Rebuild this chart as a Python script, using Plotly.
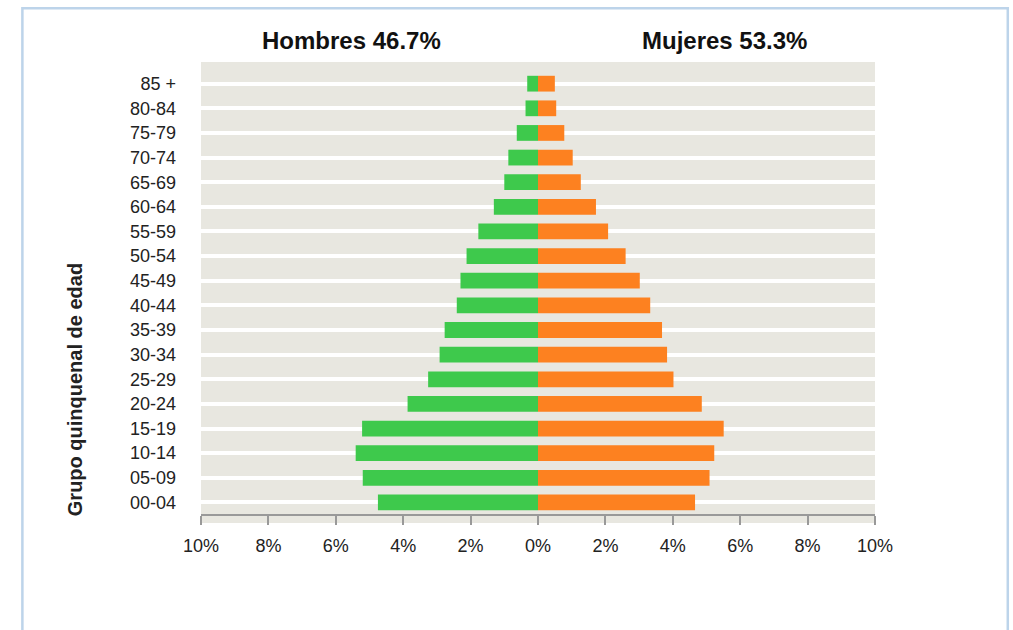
import plotly.graph_objects as go

# grupos quinquenales, de abajo hacia arriba
grupos = ['00-04', '05-09', '10-14', '15-19', '20-24', '25-29', '30-34', '35-39',
          '40-44', '45-49', '50-54', '55-59', '60-64', '65-69', '70-74', '75-79',
          '80-84', '85 +']
hombres = [4.75, 5.20, 5.41, 5.22, 3.87, 3.26, 2.92, 2.77, 2.41, 2.30, 2.12, 1.77,
           1.31, 1.00, 0.88, 0.63, 0.37, 0.32]
mujeres = [4.66, 5.09, 5.23, 5.51, 4.86, 4.02, 3.83, 3.68, 3.33, 3.02, 2.60, 2.08,
           1.72, 1.27, 1.03, 0.78, 0.54, 0.50]
tick_vals = [-10, -8, -6, -4, -2, 0, 2, 4, 6, 8, 10]
tick_text = ['10%', '8%', '6%', '4%', '2%', '0%', '2%', '4%', '6%', '8%', '10%']

fig = go.Figure()
fig.add_trace(go.Bar(
    y=grupos, x=[-v for v in hombres], orientation='h', name='Hombres',
    marker=dict(color='#3ec94c', line=dict(width=0)), width=0.64,
))
fig.add_trace(go.Bar(
    y=grupos, x=mujeres, orientation='h', name='Mujeres',
    marker=dict(color='#fd8120', line=dict(width=0)), width=0.64,
))

# franja gris bajo el eje x
fig.add_shape(type='rect', xref='paper', yref='paper', x0=0, x1=1, y0=-0.02, y1=0,
              fillcolor='#e8e7e0', line=dict(width=0), layer='below')
# marco azul
fig.add_shape(type='rect', xref='paper', yref='paper', x0=-0.265, x1=1.197,
              y0=-0.3, y1=1.119, line=dict(color='#bdd4ea', width=2.5))

head_font = dict(family='Liberation Sans, Arial', size=24, color='#111')
fig.add_annotation(x=0.224, y=1.048, xref='paper', yref='paper', showarrow=False,
                   xanchor='center', yanchor='middle',
                   text='<b>Hombres 46.7%</b>', font=head_font)
fig.add_annotation(x=0.776, y=1.048, xref='paper', yref='paper', showarrow=False,
                   xanchor='center', yanchor='middle',
                   text='<b>Mujeres 53.3%</b>', font=head_font)
fig.add_annotation(x=-0.187, y=0.276, xref='paper', yref='paper', showarrow=False,
                   xanchor='center', yanchor='middle',
                   text='<b>Grupo quinquenal de edad</b>', textangle=-90,
                   font=dict(family='Liberation Sans, Arial', size=20, color='#222'))

fig.update_layout(
    width=1013, height=630,
    margin=dict(l=201, r=138, t=62, b=116),
    barmode='relative',
    showlegend=False,
    paper_bgcolor='white',
    plot_bgcolor='#e8e7e0',
    font=dict(family='Liberation Sans, Arial', size=18, color='#222'),
    xaxis=dict(range=[-10, 10], tickvals=tick_vals, ticktext=tick_text,
               showgrid=False, zeroline=False, showline=True, linecolor='#999',
               linewidth=1.5, ticks='outside', ticklen=9, tickcolor='#999',
               tickwidth=1.5, ticklabelstandoff=6),
    yaxis=dict(type='category', categoryorder='array', categoryarray=grupos,
               range=[-0.47, 17.88],
               showgrid=True, gridcolor='white', gridwidth=4, zeroline=False,
               showline=False, ticks='', ticklabelstandoff=24),
)

fig.write_html('out.html', config={'displayModeBar': False},
               post_script="document.body.style.margin='0';")
